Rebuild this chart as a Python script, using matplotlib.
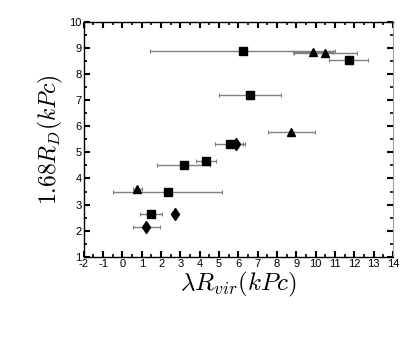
import numpy as np
import matplotlib
matplotlib.use("Agg")
import matplotlib.pyplot as plt
from matplotlib.ticker import MultipleLocator

plt.rcParams['mathtext.fontset'] = 'cm'
plt.rcParams['axes.unicode_minus'] = False
plt.rcParams['font.family'] = ['Liberation Sans', 'DejaVu Sans']

# quadrados
x_sq = np.array([6.22, 6.6, 11.7, 5.55, 4.32, 3.16, 2.33, 1.5])
y_sq = np.array([8.88, 7.19, 8.55, 5.33, 4.66, 4.5, 3.49, 2.63])
ex_sq = np.array([4.8, 1.6, 1.0, 0.77, 0.53, 1.36, 2.8, 0.57])

# triangulos
x_tr = np.array([9.85, 10.5, 8.74, 0.76])
y_tr = np.array([8.82, 8.79, 5.76, 3.58])
ex_tr = np.array([1.05, 1.64, 1.2, 0.24])

# losangos
x_di = np.array([5.86, 2.7, 1.23])
y_di = np.array([5.33, 2.63, 2.13])
ex_di = np.array([0.4, 0.0, 0.7])

fig = plt.figure(figsize=(4.15, 3.49), dpi=100)
ax = fig.add_axes([0.202, 0.264, 0.745, 0.674])

eb = dict(fmt='none', ecolor='#808080', elinewidth=1.0, capsize=1.5, capthick=0.8)
ax.errorbar(x_sq, y_sq, xerr=ex_sq, **eb)
ax.errorbar(x_tr, y_tr, xerr=ex_tr, **eb)
ax.errorbar(x_di, y_di, xerr=ex_di, **eb)
ax.plot(x_sq, y_sq, 's', color='black', markersize=5.5, zorder=3)
ax.plot(x_tr, y_tr, '^', color='black', markersize=5.5, zorder=3)
ax.plot(x_di, y_di, 'd', color='black', markersize=6, zorder=3)

ax.set_xlim(-2, 14)
ax.set_ylim(1, 10)
ax.xaxis.set_major_locator(MultipleLocator(1))
ax.xaxis.set_minor_locator(MultipleLocator(0.5))
ax.yaxis.set_major_locator(MultipleLocator(1))
ax.yaxis.set_minor_locator(MultipleLocator(0.5))
ax.tick_params(which='both', direction='in', top=True, right=True, labelsize=8, pad=1.5)
ax.tick_params(which='major', length=4, width=1.5)
ax.tick_params(which='minor', length=2, width=1.2)
ax.spines['right'].set_color('#a0a0a0')
for s in ['left', 'bottom', 'top']:
    ax.spines[s].set_linewidth(1.0)

ax.set_xlabel(r'$\lambda R_{vir}(kPc)$', fontsize=18, labelpad=0.5)
ax.set_ylabel(r'$1.68 R_D(kPc)$', fontsize=17, labelpad=3)

fig.savefig('out.png', dpi=100)
